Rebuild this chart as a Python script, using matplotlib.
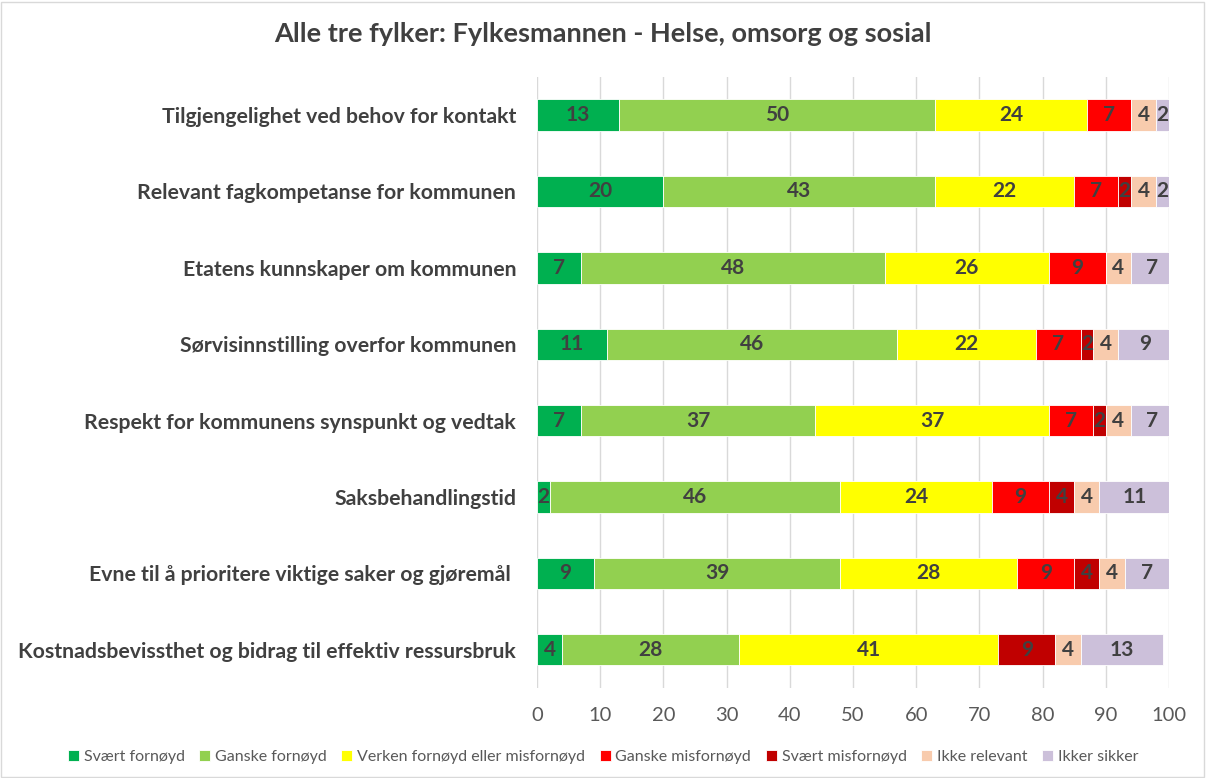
import matplotlib.pyplot as plt
from matplotlib.patches import Rectangle
import numpy as np

plt.rcParams['font.family'] = ['Lato', 'DejaVu Sans']

# Data
categories = [
    'Tilgjengelighet ved behov for kontakt',
    'Relevant fagkompetanse for kommunen',
    'Etatens kunnskaper om kommunen',
    'Sørvisinnstilling overfor kommunen',
    'Respekt for kommunens synspunkt og vedtak',
    'Saksbehandlingstid',
    'Evne til å prioritere viktige saker og gjøremål ',
    'Kostnadsbevissthet og bidrag til effektiv ressursbruk',
]
series = ['Svært fornøyd', 'Ganske fornøyd', 'Verken fornøyd eller misfornøyd',
          'Ganske misfornøyd', 'Svært misfornøyd', 'Ikke relevant', 'Ikker sikker']
svaert_fornoyd = [13, 20, 7, 11, 7, 2, 9, 4]
ganske_fornoyd = [50, 43, 48, 46, 37, 46, 39, 28]
verken = [24, 22, 26, 22, 37, 24, 28, 41]
ganske_misfornoyd = [7, 7, 9, 7, 7, 9, 9, 0]
svaert_misfornoyd = [0, 2, 0, 2, 2, 4, 4, 9]
ikke_relevant = [4, 4, 4, 4, 4, 4, 4, 4]
ikke_sikker = [2, 2, 6.6, 8.6, 6.6, 11, 7, 13]

colors = ['#00B050', '#92D050', '#FFFF00', '#FF0000', '#C00000', '#F8CBAD', '#CCC0DA']
values = [svaert_fornoyd, ganske_fornoyd, verken, ganske_misfornoyd,
          svaert_misfornoyd, ikke_relevant, ikke_sikker]

fig = plt.figure(figsize=(12.06, 7.78), dpi=100)
ax = fig.add_axes([0.4453, 0.1157, 0.524, 0.7855])

y = np.arange(len(categories))
left = np.zeros(len(categories))
for name, vals, col in zip(series, values, colors):
    vals = np.array(vals, dtype=float)
    bars = ax.barh(y, vals, 0.41, left=left, color=col, label=name,
                   edgecolor='white', linewidth=0.6, zorder=3)
    for b, v in zip(bars, vals):
        if v > 0:
            ax.text(b.get_x() + b.get_width() / 2, b.get_y() + b.get_height() / 2,
                    f'{v:.0f}', ha='center', va='center', fontsize=15,
                    fontweight='bold', color='#404040', zorder=4)
    left += vals

ax.set_xlim(0, 100)
ax.set_ylim(len(categories) - 0.5, -0.5)
ax.set_xticks(range(0, 101, 10))
ax.set_yticks(y)
ax.set_yticklabels(categories, fontsize=15.3, fontweight='bold', color='#404040')
ax.tick_params(axis='x', labelsize=14.5, colors='#595959', length=0, pad=14)
ax.tick_params(axis='y', length=0, pad=15)
ax.grid(axis='x', color='#d9d9d9', linewidth=1, zorder=0)
for s in ax.spines.values():
    s.set_visible(False)

fig.suptitle('Alle tre fylker: Fylkesmannen - Helse, omsorg og sosial',
             x=0.5, y=0.972, fontsize=19.5, fontweight='bold', color='#404040')

fig.legend(loc='center', bbox_to_anchor=(0.5, 0.027), ncol=7, frameon=False,
           fontsize=11.5, handlelength=0.7, handleheight=0.7, handletextpad=0.3,
           columnspacing=0.9, labelcolor='#595959')

fig.add_artist(Rectangle((0.001, 0.001), 0.997, 0.997, transform=fig.transFigure,
                         fill=False, edgecolor='#d9d9d9', linewidth=1))

fig.savefig('out.png', dpi=100)
